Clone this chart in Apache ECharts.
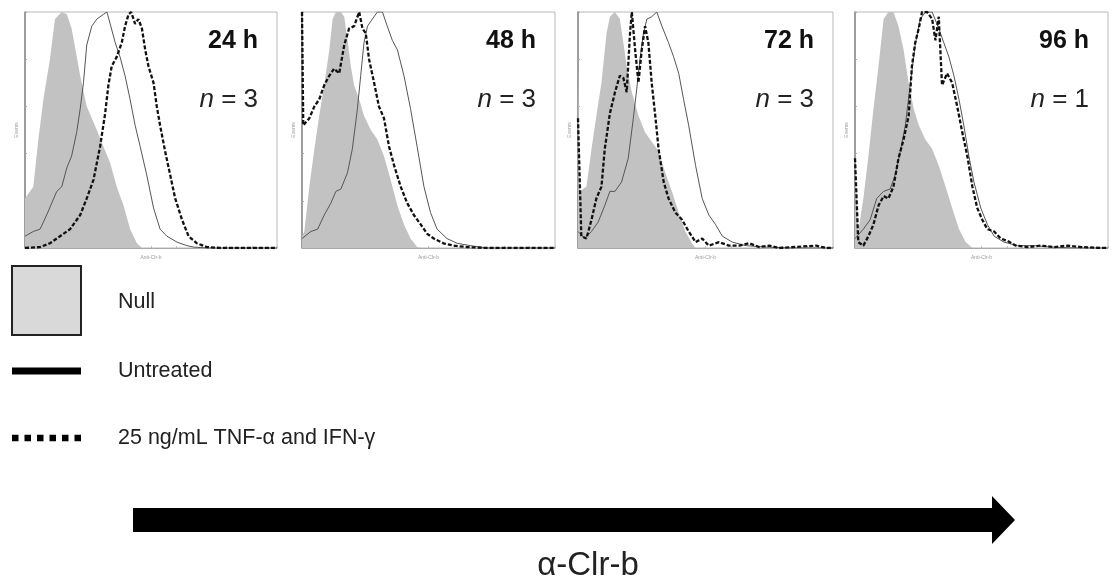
<!DOCTYPE html>
<html>
<head>
<meta charset="utf-8">
<script src="https://cdn.jsdelivr.net/npm/echarts@6/dist/echarts.min.js"></script>
<style>html,body{margin:0;padding:0;background:#fff;}#c{width:1113px;height:585px;}</style>
</head>
<body>
<div id="c"></div>
<script>
// ---- data (x: fluorescence channel, % of axis; y: events, % of panel max) ----
const timepoints = ['24 h', '48 h', '72 h', '96 h'];
const nValues = [3, 3, 3, 1];

const null24 = [[0,21],[3.3,26],[5.3,46],[7.3,63],[9.9,80],[11.9,97],[14.6,100],[16.6,99],[18.5,93],[21.9,73],[24.5,60],[28.5,50],[31.1,43],[33.8,36],[36.4,26],[39.1,18],[41.7,8],[44.4,2],[46.4,0],[100,0]];
const untreated24 = [[0,5],[3.3,7],[6.0,8],[8.6,14],[10.6,19],[12.6,24],[14.6,26],[16.6,34],[18.5,39],[20.5,49],[21.9,59],[23.2,70],[24.5,86],[26.5,94],[28.5,97],[31.1,99],[32.5,100],[33.8,95],[35.8,87],[37.7,81],[39.7,73],[41.7,63],[43.7,52],[45.7,43],[48.3,31],[51.0,17],[53.6,8],[56.3,5],[60.3,2.5],[64.2,1],[66.9,0.4],[72.2,0],[100,0]];
const treated24 = [[0,0],[6.0,0.4],[9.9,2],[13.9,5],[17.9,8],[21.9,14],[24.5,21],[27.2,29],[29.8,43],[31.8,57],[33.1,69],[34.4,77],[36.4,81],[38.4,87],[39.7,94],[41.1,99],[42.1,100],[43.7,95],[45.0,97],[46.4,93],[47.7,84],[49.0,77],[51.0,70],[52.3,60],[53.6,52],[55.6,41],[57.6,31],[59.6,21],[62.3,12],[64.9,5],[68.2,2],[72.2,0.4],[77.5,0],[100,0]];

const null48 = [[0,5],[0.9,7],[2.9,26],[4.9,42],[6.8,56],[8.8,69],[10.8,84],[12.1,97],[13.4,100],[15.4,100],[16.7,98],[18.0,88],[19.3,77],[20.6,69],[22.6,63],[24.5,56],[27.2,50],[29.8,46],[32.4,39],[35.0,29],[37.7,18],[40.3,10],[42.9,4],[45.5,0.4],[46.9,0],[100,0]];
const untreated48 = [[0,4],[3.5,7],[6.2,8],[8.8,14],[11.4,19],[13.4,24],[15.4,25],[18.0,32],[19.9,42],[21.9,59],[23.2,73],[24.5,87],[25.9,94],[27.8,97],[29.8,100],[31.8,100],[33.7,94],[35.7,88],[37.7,84],[40.3,73],[42.9,59],[45.5,43],[48.2,26],[50.8,15],[53.4,8],[57.3,4],[61.3,2],[66.5,1],[73.1,0],[100,0]];
const treated48 = [[0,100],[0.5,52],[2.9,55],[4.9,60],[6.8,63],[8.8,69],[10.8,73],[12.7,76],[14.7,74],[16.7,86],[18.6,93],[20.6,94],[22.6,100],[23.9,93],[25.2,91],[26.5,80],[28.5,70],[30.4,60],[32.4,55],[34.4,43],[36.4,35],[39.0,26],[41.6,19],[44.2,14],[46.9,10],[49.5,6],[52.1,4],[55.9,2],[60.0,1],[65.2,0.4],[73.1,0],[100,0]];

const null72 = [[0,77],[0.7,24],[3.3,26],[5.3,42],[7.2,56],[9.2,70],[11.2,91],[12.5,98],[14.5,100],[16.4,97],[17.8,87],[19.1,77],[21.1,66],[23.7,56],[26.3,49],[28.9,45],[31.6,41],[34.2,32],[36.8,24],[39.5,15],[42.1,7],[44.7,2],[46.1,0],[100,0]];
const untreated72 = [[0,7],[2.6,4],[5.3,7],[7.9,11],[10.5,18],[12.5,24],[14.5,24],[17.1,28],[19.7,38],[21.7,55],[23.0,67],[24.3,80],[25.7,91],[27.0,97],[28.9,98],[30.9,100],[32.9,94],[35.5,87],[37.5,81],[39.5,74],[41.4,63],[43.4,52],[46.1,35],[48.7,21],[51.3,14],[53.9,10],[56.6,5],[60.5,2.5],[65.8,1],[73.7,0.4],[84.2,0],[100,0]];
const treated72 = [[0,55],[1.3,5],[3.3,4],[5.3,12],[7.2,21],[9.2,26],[10.5,42],[12.5,57],[14.5,66],[16.4,73],[17.8,72],[19.1,66],[20.4,91],[21.1,100],[22.4,84],[23.7,70],[25.0,84],[26.3,94],[27.6,87],[28.9,70],[30.3,56],[31.6,42],[33.6,28],[35.5,21],[38.2,15],[40.8,12],[43.4,7],[46.1,2.5],[48.7,4],[51.3,1],[55.3,2.5],[59.2,1],[63.2,1],[67.1,2],[71.1,0.4],[75.0,1],[78.9,0],[93.4,1],[97.4,0],[100,0]];

const null96 = [[0,38],[1.3,7],[3.3,21],[5.3,39],[7.3,59],[9.3,77],[11.3,97],[13.2,100],[15.2,100],[17.2,94],[19.2,84],[21.2,70],[23.2,59],[25.2,52],[27.8,46],[30.5,42],[33.1,35],[35.8,26],[38.4,17],[41.1,8],[43.7,2.5],[46.4,0],[100,0]];
const untreated96 = [[0,4],[3.3,8],[6.0,12],[8.6,21],[11.3,24],[13.9,25],[15.9,31],[17.9,41],[19.9,52],[21.9,70],[23.8,86],[25.8,97],[27.8,100],[30.5,100],[33.1,93],[35.1,87],[37.1,81],[39.1,73],[41.1,63],[43.0,52],[45.0,39],[47.0,28],[49.7,17],[52.3,10],[55.0,5],[58.9,2.5],[64.2,1],[70.9,1],[77.5,0.4],[86.8,0],[100,0]];
const treated96 = [[0,38],[1.3,2.5],[3.3,1],[5.3,5],[7.3,10],[9.3,18],[11.3,22],[13.2,21],[15.2,26],[17.2,38],[19.2,46],[21.2,56],[22.5,77],[23.8,87],[25.2,93],[26.5,100],[28.5,100],[30.5,97],[31.8,88],[33.1,98],[34.4,69],[36.4,74],[38.4,70],[40.4,60],[42.4,49],[44.4,39],[46.4,26],[48.3,17],[50.3,12],[52.3,8],[55.0,7],[57.6,4],[60.3,3],[63.6,1],[68.2,0.4],[73.5,1],[78.8,0.4],[84.1,1],[89.4,0.4],[97.4,0],[100,0]];

const legendNames = ['Null', 'Untreated', '25 ng/mL TNF-\u03b1 and IFN-\u03b3'];
const arrowLabel = '\u03b1-Clr-b';
const xAxisTitle = 'Anti-Clr-b';
const yAxisTitle = 'Events';

const nullSets = [null24, null48, null72, null96];
const untreatedSets = [untreated24, untreated48, untreated72, untreated96];
const treatedSets = [treated24, treated48, treated72, treated96];

// ---- layout ----
const gridBoxes = [
  {left: 25, width: 252},
  {left: 302, width: 253},
  {left: 578, width: 255},
  {left: 855, width: 253}
];
const gridTop = 12, gridH = 236;
const FONT = '"Liberation Sans", Arial, sans-serif';

const grids = [], xAxes = [], yAxes = [], series = [], graphics = [];
gridBoxes.forEach((g, i) => {
  grids.push({left: g.left, top: gridTop, width: g.width, height: gridH,
    show: true, borderColor: '#b8b8b8', borderWidth: 1, backgroundColor: 'transparent'});
  xAxes.push({type: 'value', gridIndex: i, min: 0, max: 100, interval: 10,
    name: xAxisTitle, nameLocation: 'middle', nameGap: 7,
    nameTextStyle: {fontSize: 5, color: '#999', fontFamily: FONT},
    axisLine: {show: true, lineStyle: {color: '#aaa', width: 1}},
    axisTick: {show: true, length: 2, inside: true, lineStyle: {color: '#bbb'}},
    axisLabel: {show: false}, splitLine: {show: false}});
  yAxes.push({type: 'value', gridIndex: i, min: 0, max: 100, interval: 20,
    name: yAxisTitle, nameLocation: 'middle', nameGap: 6, nameRotate: 90,
    nameTextStyle: {fontSize: 5, color: '#999', fontFamily: FONT},
    axisLine: {show: true, lineStyle: {color: '#888', width: 1.5}},
    axisTick: {show: true, length: 2, inside: true, lineStyle: {color: '#aaa'}},
    axisLabel: {show: false}, splitLine: {show: false}});
  series.push({type: 'line', name: legendNames[0], xAxisIndex: i, yAxisIndex: i,
    data: nullSets[i], showSymbol: false, symbol: 'none', silent: true,
    lineStyle: {width: 0, color: '#c2c2c2'}, areaStyle: {color: '#c2c2c2', opacity: 1}, z: 1});
  series.push({type: 'line', name: legendNames[1], xAxisIndex: i, yAxisIndex: i,
    data: untreatedSets[i], showSymbol: false, symbol: 'none', silent: true,
    lineStyle: {width: 1, color: '#555'}, z: 2});
  series.push({type: 'line', name: legendNames[2], xAxisIndex: i, yAxisIndex: i,
    data: treatedSets[i], showSymbol: false, symbol: 'none', silent: true,
    lineStyle: {width: 2.3, color: '#111', type: [4, 2]}, z: 3});

  const rx = g.left + g.width - 19;
  graphics.push({type: 'text', x: rx, y: 41, style: {text: timepoints[i], font: 'bold 25px ' + FONT,
    fill: '#111', align: 'right', verticalAlign: 'middle'}});
  graphics.push({type: 'text', x: rx, y: 100, style: {text: '{i|n} = ' + nValues[i],
    fontSize: 26, fontFamily: FONT, fill: '#222', align: 'right', verticalAlign: 'middle',
    rich: {i: {fontStyle: 'italic', fontSize: 26, fontFamily: FONT, fill: '#222'}}}});
});

// legend
graphics.push({type: 'rect', shape: {x: 12, y: 266, width: 69, height: 69},
  style: {fill: '#d9d9d9', stroke: '#222', lineWidth: 2}});
graphics.push({type: 'text', x: 118, y: 302, style: {text: legendNames[0], font: '21.5px ' + FONT, fill: '#222', verticalAlign: 'middle'}});
graphics.push({type: 'line', shape: {x1: 12, y1: 371, x2: 81, y2: 371}, style: {stroke: '#000', lineWidth: 7}});
graphics.push({type: 'text', x: 118, y: 371, style: {text: legendNames[1], font: '21.5px ' + FONT, fill: '#222', verticalAlign: 'middle'}});
graphics.push({type: 'line', shape: {x1: 12, y1: 438, x2: 81, y2: 438}, style: {stroke: '#000', lineWidth: 6.5, lineDash: [6.5, 6]}});
graphics.push({type: 'text', x: 118, y: 438, style: {text: legendNames[2], font: '21.5px ' + FONT, fill: '#222', verticalAlign: 'middle'}});

// arrow
graphics.push({type: 'polygon', shape: {points: [[133, 508], [992, 508], [992, 496], [1015, 520], [992, 544], [992, 532], [133, 532]]},
  style: {fill: '#000'}});
graphics.push({type: 'text', x: 588, y: 566, style: {text: arrowLabel, font: '33px ' + FONT, fill: '#222', align: 'center', verticalAlign: 'middle'}});

const chart = echarts.init(document.getElementById('c'), null, {renderer: 'canvas'});
chart.setOption({
  animation: false,
  backgroundColor: '#fff',
  grid: grids, xAxis: xAxes, yAxis: yAxes, series: series,
  graphic: graphics
});
</script>
</body>
</html>
